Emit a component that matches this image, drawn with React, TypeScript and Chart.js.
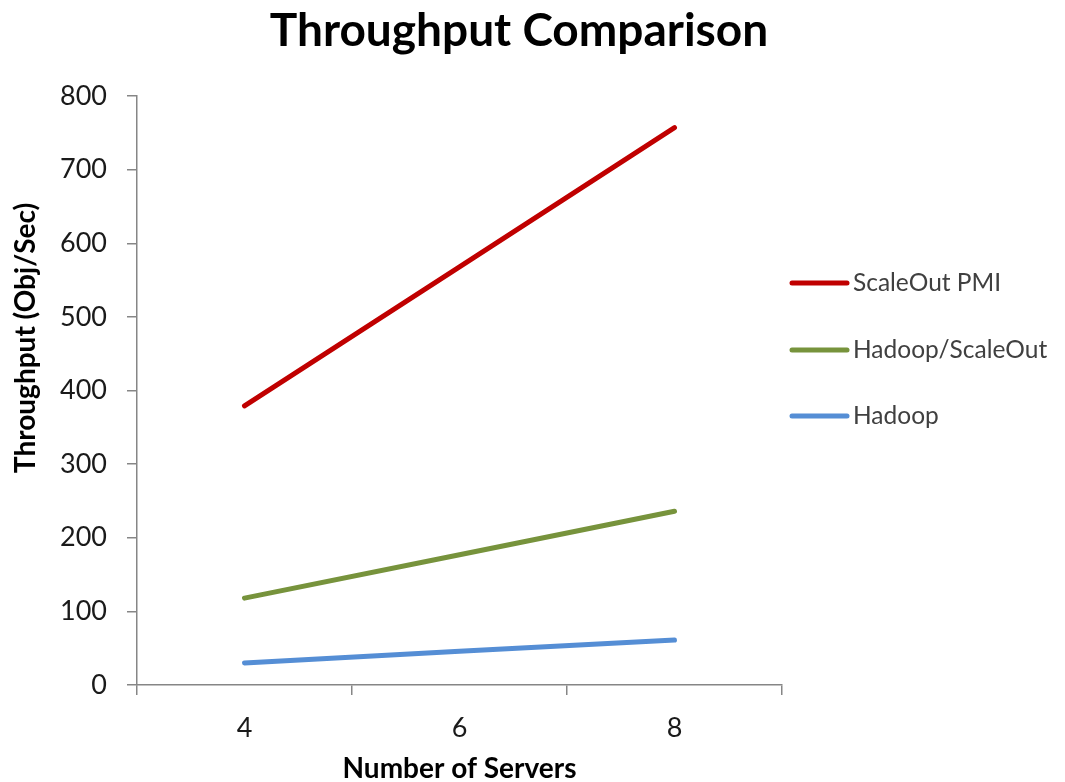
import React, { useEffect, useRef } from "react";
import { Chart, registerables } from "chart.js";

Chart.register(...registerables);

const categories = ["4", "6", "8"];
const scaleOutPMI = [379, 568, 757];
const hadoopScaleOut = [118, 177, 236];
const hadoop = [30, 46, 61];
const yTicks = [0, 100, 200, 300, 400, 500, 600, 700, 800];

const chartTitle = "Throughput Comparison";
const xTitle = "Number of Servers";
const yTitle = "Throughput (Obj/Sec)";

const FONT = "Lato, 'Open Sans', sans-serif";

const textPlugin = {
  id: "textPlugin",
  afterDraw(chart: any) {
    const ctx = chart.ctx;
    const area = chart.chartArea;
    ctx.save();
    // title
    ctx.fillStyle = "#000000";
    ctx.font = `bold 46px ${FONT}`;
    ctx.textAlign = "center";
    ctx.textBaseline = "middle";
    ctx.fillText(chartTitle, 519, 31);
    // y title
    ctx.save();
    ctx.translate(26, 338);
    ctx.rotate(-Math.PI / 2);
    ctx.font = `bold 28px ${FONT}`;
    ctx.fillText(yTitle, 0, 0);
    ctx.restore();
    // legend
    const legendX = area.right + 8;
    const legendYs = [283, 350, 416];
    chart.data.datasets.forEach((ds: any, i: number) => {
      const y = legendYs[i];
      ctx.strokeStyle = ds.borderColor;
      ctx.lineWidth = 5;
      ctx.lineCap = "round";
      ctx.beginPath();
      ctx.moveTo(legendX + 2, y);
      ctx.lineTo(legendX + 57, y);
      ctx.stroke();
      ctx.fillStyle = "#404040";
      ctx.font = `24.5px ${FONT}`;
      ctx.textAlign = "left";
      ctx.textBaseline = "middle";
      ctx.fillText(ds.label, legendX + 63, y);
    });
    ctx.restore();
  },
};

export default function App() {
  const canvasRef = useRef<HTMLCanvasElement | null>(null);

  useEffect(() => {
    if (!canvasRef.current) return;
    const axisColor = "#868686";
    const chart = new Chart(canvasRef.current, {
      type: "line",
      data: {
        labels: categories,
        datasets: [
          {
            label: "ScaleOut PMI",
            data: scaleOutPMI,
            borderColor: "#C00000",
            borderWidth: 5,
            pointRadius: 0,
            borderCapStyle: "round",
            tension: 0,
          },
          {
            label: "Hadoop/ScaleOut",
            data: hadoopScaleOut,
            borderColor: "#77933C",
            borderWidth: 5,
            pointRadius: 0,
            borderCapStyle: "round",
            tension: 0,
          },
          {
            label: "Hadoop",
            data: hadoop,
            borderColor: "#558ED5",
            borderWidth: 5,
            pointRadius: 0,
            borderCapStyle: "round",
            tension: 0,
          },
        ],
      },
      options: {
        animation: false,
        responsive: false,
        devicePixelRatio: 1,
        layout: { padding: { left: 0, right: 283, top: 96, bottom: 0 } },
        plugins: {
          legend: { display: false },
          title: { display: false },
          tooltip: { enabled: false },
        },
        scales: {
          x: {
            type: "category",
            offset: true,
            grid: {
              offset: true,
              drawOnChartArea: false,
              drawTicks: true,
              tickLength: 10,
              color: axisColor,
              lineWidth: 1.5,
            },
            border: { color: axisColor, width: 1.5 },
            ticks: {
              color: "#1a1a1a",
              font: { family: FONT, size: 27 },
              padding: 17,
              maxRotation: 0,
            },
            title: {
              display: true,
              text: xTitle,
              color: "#000000",
              font: { family: FONT, size: 28, weight: "bold" },
              padding: { top: 0, bottom: -4 },
            },
            afterFit(scale: any) {
              scale.height = 97;
            },
          },
          y: {
            min: 0,
            max: 800,
            afterBuildTicks(scale: any) {
              scale.ticks = yTicks.map((v) => ({ value: v }));
            },
            grid: {
              drawOnChartArea: false,
              drawTicks: true,
              tickLength: 10,
              color: axisColor,
              lineWidth: 1.5,
            },
            border: { color: axisColor, width: 1.5 },
            ticks: {
              color: "#1a1a1a",
              font: { family: FONT, size: 27 },
              padding: 20,
            },
            afterFit(scale: any) {
              scale.width = 137;
            },
          },
        },
      },
      plugins: [textPlugin],
    } as any);
    return () => chart.destroy();
  }, []);

  return (
    <div style={{ position: "fixed", left: 0, top: 0, width: 1065, height: 782, background: "#ffffff" }}>
      <canvas ref={canvasRef} width={1065} height={782} style={{ display: "block" }} />
    </div>
  );
}
